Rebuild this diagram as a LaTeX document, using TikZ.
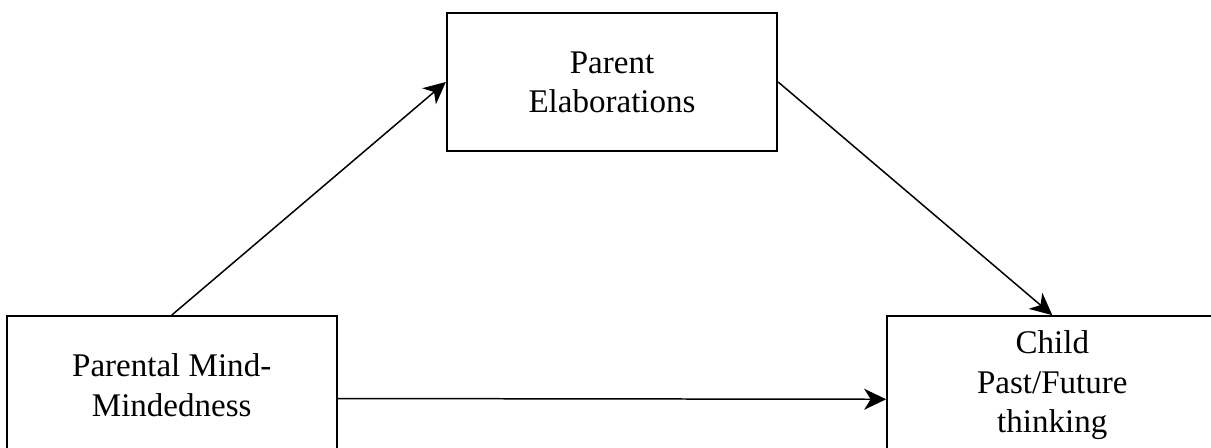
\documentclass[tikz,border=0pt]{standalone}
\usepackage{fontspec}
\setmainfont{Liberation Serif}
\usepackage{tikz}
\usetikzlibrary{arrows.meta,positioning}

\begin{document}
\begin{tikzpicture}[
    font=\fontsize{18.8}{22.3}\selectfont,
    box/.style={draw=black, line width=1.3pt, align=center, minimum width=6.6cm, minimum height=2.76cm, inner sep=0pt},
    arr/.style={-{Stealth[length=4.4mm, width=4.2mm, inset=1.3mm]}, line width=0.85pt, draw=black}
]
\useasboundingbox (0,0) rectangle (24.22,8.96);
\node[box] (pe) at (12.24,7.32) {Parent\\Elaborations};
\node[box, below left=3.26cm and 2.16cm of pe] (pmm) {Parental Mind-\\Mindedness};
\node[box, below right=3.26cm and 2.16cm of pe] (child) {Child\\Past/Future\\thinking};
\draw[arr] (pmm.north) -- (pe.west);
\draw[arr] (pe.east) -- (child.north);
\draw[arr] ([yshift=-2.65mm]pmm.east) -- ([yshift=-2.8mm]child.west);
\end{tikzpicture}
\end{document}
